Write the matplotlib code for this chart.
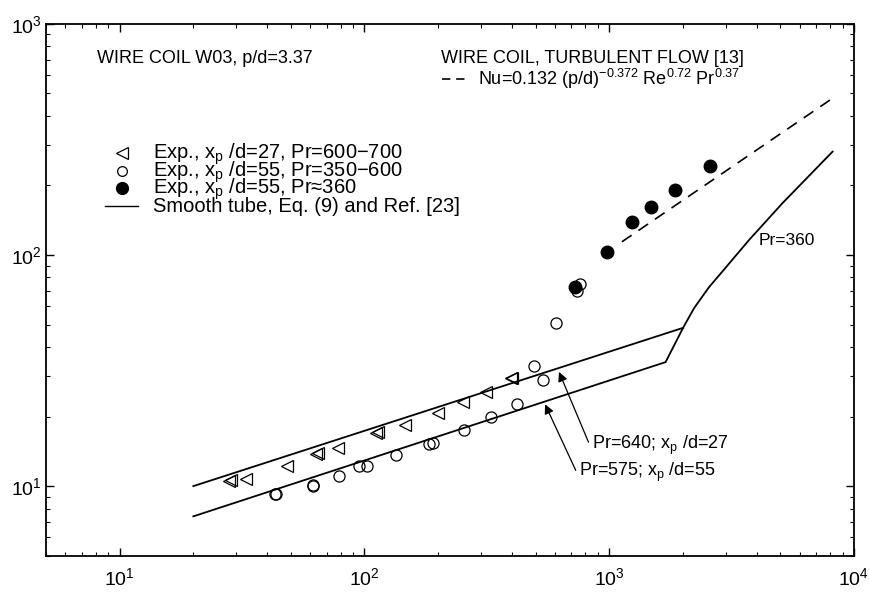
import matplotlib
matplotlib.use("Agg")
import matplotlib.pyplot as plt

plt.rcParams['font.family'] = ['Liberation Sans', 'DejaVu Sans']
plt.rcParams['mathtext.fontset'] = 'custom'
plt.rcParams['mathtext.rm'] = 'Liberation Sans'
plt.rcParams['mathtext.it'] = 'Liberation Sans:italic'
plt.rcParams['mathtext.bf'] = 'Liberation Sans:bold'

# Exp., xp/d=27, Pr=600-700 (open left triangles)
tri_re = [28.4, 28.0, 32.7, 48.2, 64.4, 63.5, 77.8, 113.5, 112.0, 145.9, 200, 253, 313, 399, 396]
tri_nu = [10.59, 10.5, 10.77, 12.17, 13.9, 13.8, 14.66, 17.14, 17.0, 18.3, 20.7, 23.1, 25.6, 29.5, 29.3]

# Exp., xp/d=55, Pr=350-600 (open circles)
oc_re = [43.2, 43.4, 61.8, 61.5, 79, 95.4, 102.3, 134, 183.6, 190.6, 254.6, 330, 418.6,
         494.7, 538, 604.6, 741, 760]
oc_nu = [9.2, 9.22, 10.14, 10.05, 11.1, 12.17, 12.2, 13.68, 15.27, 15.35, 17.42, 19.9, 22.75,
         33.0, 28.9, 50.6, 69.8, 74.8]

# Exp., xp/d=55, Pr~360 (filled circles)
fc_re = [726, 984, 1239, 1486, 1864, 2577]
fc_nu = [72.4, 102.7, 139, 161, 191.4, 243]

# smooth tube, laminar, Pr=640 xp/d=27
sm1_re = [20, 2005]
sm1_nu = [10.0, 48.4]
# smooth tube, laminar, Pr=575 xp/d=55, then turbulent Pr=360
sm2_re = [20, 1700, 2004, 2218, 2553, 2897, 3725, 5103, 8180]
sm2_nu = [7.4, 34.4, 48.4, 58.7, 72.4, 84.7, 116, 167.5, 280]

# wire coil turbulent correlation [13]
wc_re = [1127, 7980]
wc_nu = [114, 468]

fig = plt.figure(figsize=(8.69, 5.92), dpi=100)
ax = fig.add_axes([0.0529, 0.0613, 0.9298, 0.8985])
ax.set_xscale('log')
ax.set_yscale('log')
ax.set_xlim(5, 1e4)
ax.set_ylim(5, 1000)

lw = 1.3
ax.plot(sm1_re, sm1_nu, color='black', lw=lw)
ax.plot(sm2_re, sm2_nu, color='black', lw=lw)
ax.plot(wc_re, wc_nu, color='black', lw=1.2, dashes=(7, 5))

ax.plot(tri_re, tri_nu, ls='none', marker='<', ms=9, mfc='none', mec='black', mew=0.9)
ax.plot(oc_re, oc_nu, ls='none', marker='o', ms=8, mfc='none', mec='black', mew=0.9)
ax.plot(fc_re, fc_nu, ls='none', marker='o', ms=9, mfc='black', mec='black')

# annotations
ax.annotate('', xy=(623.7, 31.2), xytext=(823, 15.5),
            arrowprops=dict(arrowstyle='-|>', color='black', lw=0.9,
                            mutation_scale=14, shrinkA=0, shrinkB=0))
ax.annotate('', xy=(547, 22.6), xytext=(730, 11.7),
            arrowprops=dict(arrowstyle='-|>', color='black', lw=0.9,
                            mutation_scale=14, shrinkA=0, shrinkB=0))
ax.text(849, 15.0, r'Pr=640; x$_\mathrm{p}$ /d=27', fontsize=13, ha='left', va='center')
ax.text(756, 11.5, r'Pr=575; x$_\mathrm{p}$ /d=55', fontsize=13, ha='left', va='center')
ax.text(4064, 116, 'Pr=360', fontsize=12.5, ha='left', va='center')

# header texts
ax.text(0.0635, 0.927, 'WIRE COIL W03, p/d=3.37', transform=ax.transAxes,
        fontsize=13, va='baseline')
ax.text(0.4885, 0.927, 'WIRE COIL, TURBULENT FLOW [13]', transform=ax.transAxes,
        fontsize=13, va='baseline')
ax.plot([0.4897, 0.5186], [0.8957, 0.8957], transform=ax.transAxes, color='black',
        lw=1.2, dashes=(5, 3.5), clip_on=False)
ax.text(0.535, 0.885, r'Nu=0.132 (p/d)$^{\mathrm{-0.372}}$ Re$^{\mathrm{0.72}}$ Pr$^{\mathrm{0.37}}$',
        transform=ax.transAxes, fontsize=13, va='baseline')

# legend drawn by hand (tight rows)
leg_x = 0.0937
txt_x = 0.1328
ax.plot([leg_x], [0.7562], transform=ax.transAxes, marker='<', ms=8, mfc='none',
        mec='black', mew=0.9, ls='none')
ax.plot([leg_x], [0.7233], transform=ax.transAxes, marker='o', ms=7, mfc='none',
        mec='black', mew=0.9, ls='none')
ax.plot([leg_x], [0.6904], transform=ax.transAxes, marker='o', ms=8.5, mfc='black',
        mec='black', ls='none')
ax.plot([0.073, 0.1139], [0.6575, 0.6575], transform=ax.transAxes, color='black', lw=1.0)
labels = [r'Exp., x$_\mathrm{p}$ /d=27, Pr=600−700',
          r'Exp., x$_\mathrm{p}$ /d=55, Pr=350−600',
          r'Exp., x$_\mathrm{p}$ /d=55, Pr≈360',
          'Smooth tube, Eq. (9) and Ref. [23]']
for lab, yy in zip(labels, [0.7458, 0.7129, 0.6800, 0.6471]):
    ax.text(txt_x, yy, lab, transform=ax.transAxes, fontsize=14.5, va='baseline')

ax.tick_params(which='both', direction='in', top=True, right=True, labelsize=14)
ax.tick_params(which='major', length=6, width=1.0)
ax.tick_params(which='minor', length=3, width=0.8)
ax.tick_params(axis='x', pad=8)
ax.tick_params(axis='y', pad=3)
for s in ax.spines.values():
    s.set_linewidth(1.3)

fig.savefig('out.png', dpi=100)
